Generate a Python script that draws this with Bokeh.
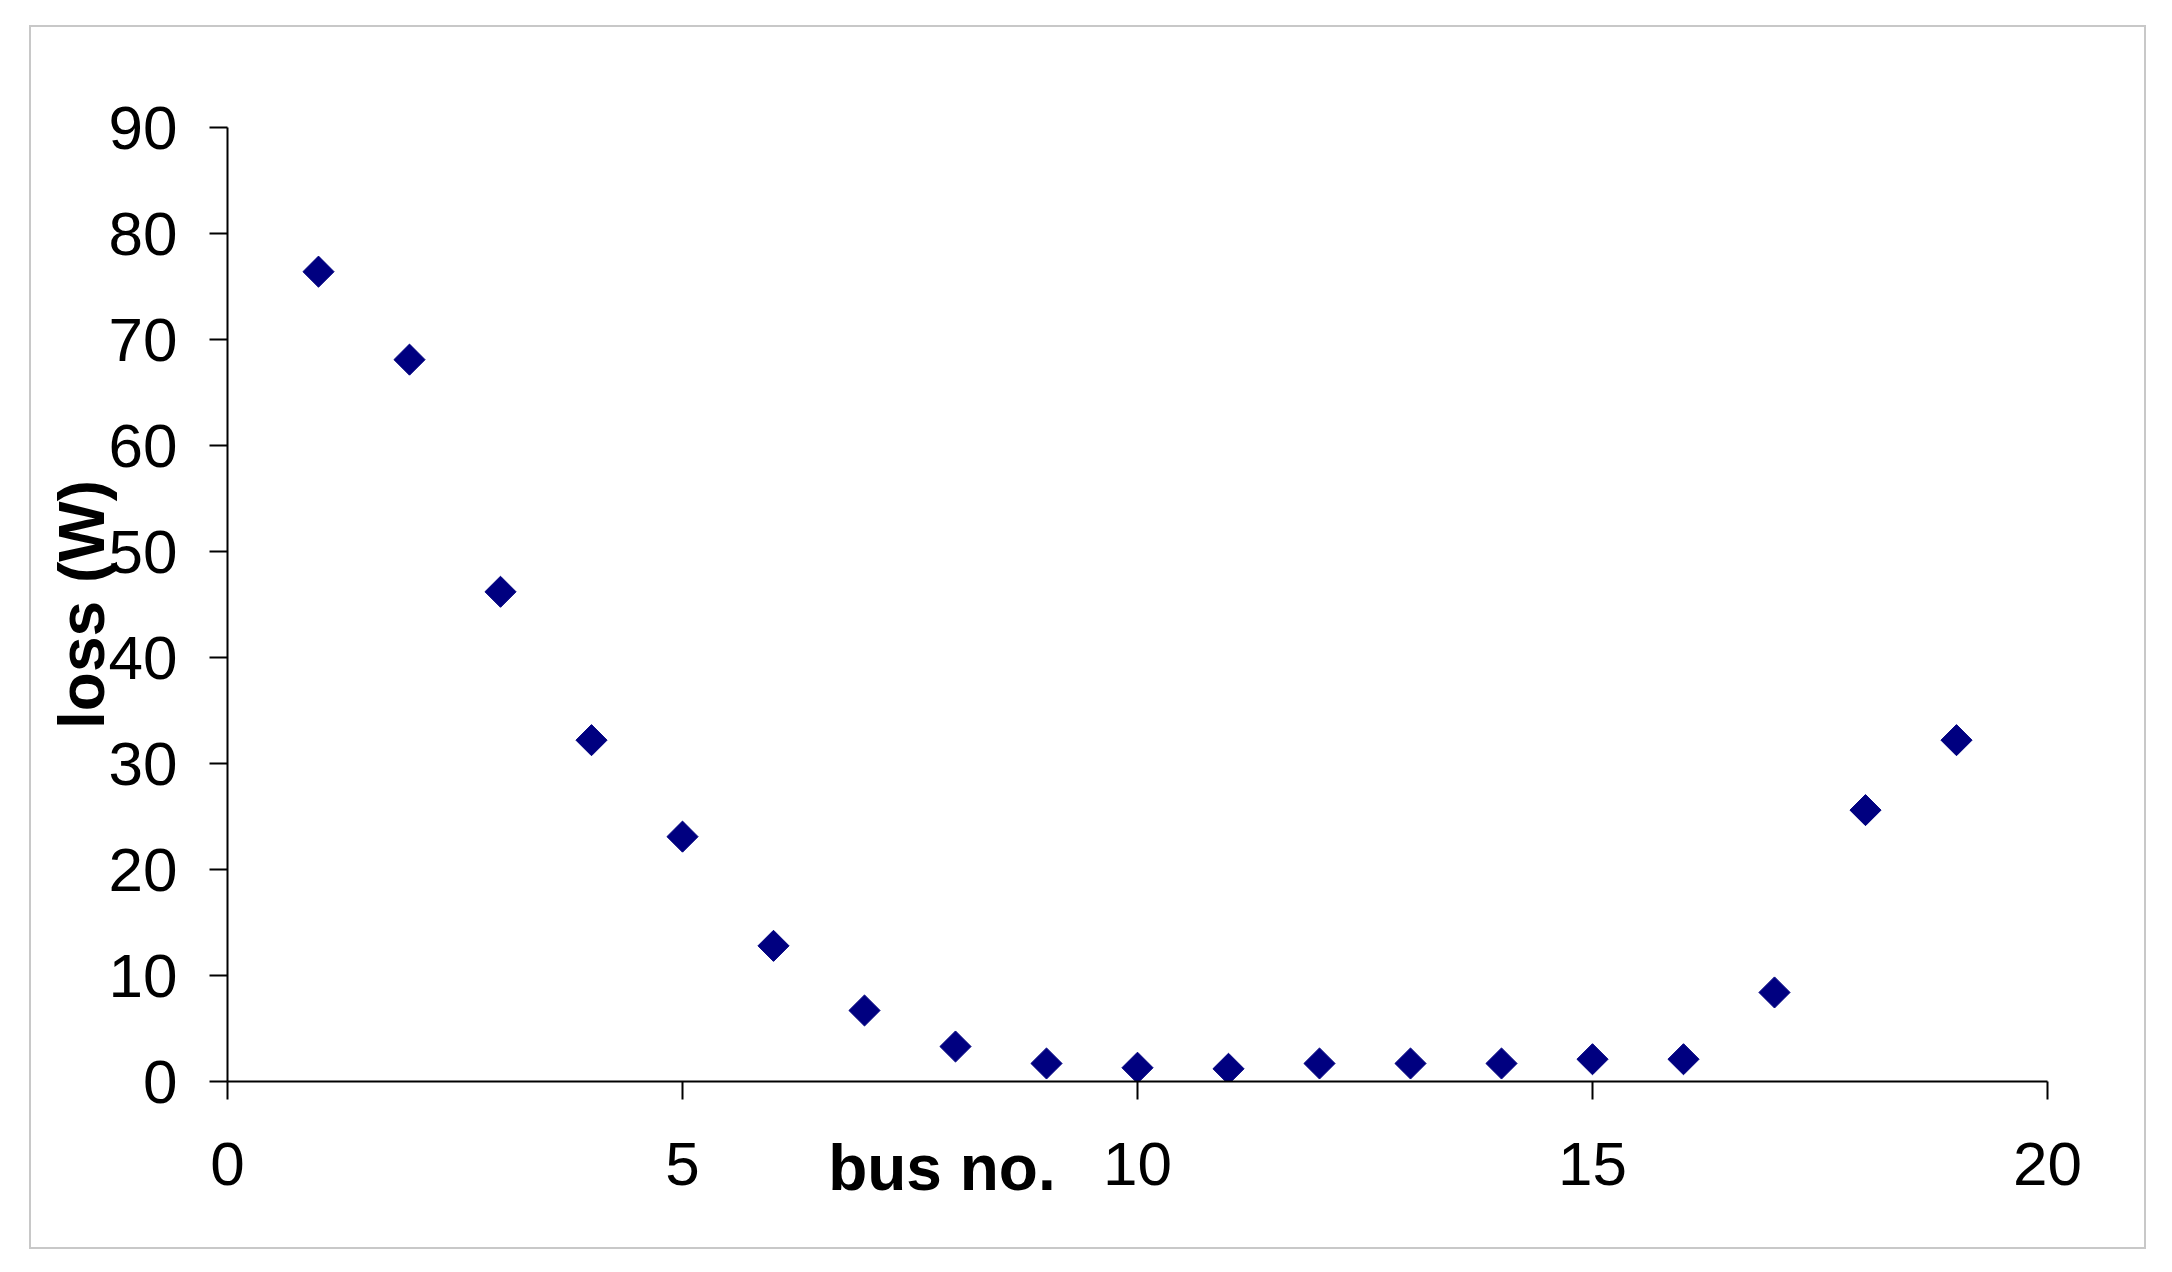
import math
from bokeh.plotting import figure
from bokeh.models import Range1d, FixedTicker, ColumnDataSource, LinearAxis
from bokeh.embed import file_html
from bokeh.resources import INLINE

bus_no = [1, 2, 3, 4, 5, 6, 7, 8, 9, 10, 11, 12, 13, 14, 15, 16, 17, 18, 19]
loss_w = [76.4, 68.1, 46.2, 32.2, 23.1, 12.8, 6.7, 3.3, 1.7, 1.3, 1.2, 1.7, 1.7, 1.7, 2.1, 2.1, 8.4, 25.6, 32.2]
x_ticks = [0, 5, 10, 15, 20]
y_ticks = [0, 10, 20, 30, 40, 50, 60, 70, 80, 90]
x_title = "bus no."
y_title = "loss (W)"

FONT = "Liberation Sans"
NAVY = "#000080"

p = figure(width=2117, height=1224, output_backend="svg", toolbar_location=None,
           x_range=Range1d(0, 20), y_range=Range1d(0, 90),
           min_border_left=196, min_border_right=101, min_border_top=100, min_border_bottom=170,
           margin=(25, 0, 0, 29),
           styles={"border": "2px solid #c8c8c8"})
p.outline_line_color = None
p.xgrid.visible = False
p.ygrid.visible = False

src = ColumnDataSource(dict(x=bus_no, y=loss_w))
p.scatter("x", "y", source=src, marker="square", angle=math.pi / 4, size=22,
          fill_color=NAVY, line_color=NAVY, line_width=1)

for ax, ticks in ((p.xaxis[0], x_ticks), (p.yaxis[0], y_ticks)):
    ax.ticker = FixedTicker(ticks=ticks)
    ax.minor_tick_line_color = None
    ax.major_tick_in = 0
    ax.major_tick_out = 18
    ax.axis_line_color = "black"
    ax.axis_line_width = 2
    ax.major_tick_line_width = 2
    ax.major_label_text_font = FONT
    ax.major_label_text_font_size = "62px"
    ax.major_label_text_color = "black"

p.xaxis[0].major_label_standoff = 43
p.yaxis[0].major_label_standoff = 32

p.yaxis[0].axis_label = y_title
p.yaxis[0].axis_label_text_font = FONT
p.yaxis[0].axis_label_text_font_size = "64px"
p.yaxis[0].axis_label_text_font_style = "bold"
p.yaxis[0].axis_label_text_color = "black"
p.yaxis[0].axis_label_standoff = -12

# x title sits left of centre, level with the tick labels (as in the reference)
xb = LinearAxis(ticker=FixedTicker(ticks=[]), axis_line_color=None,
                major_tick_line_color=None, minor_tick_line_color=None,
                major_label_text_font_size="1px",
                axis_label=x_title + "\u00a0" * 22, axis_label_text_font=FONT,
                axis_label_text_font_size="64px",
                axis_label_text_font_style="bold", axis_label_text_color="black",
                axis_label_standoff=-56)
p.add_layout(xb, "below")

open("out.html", "w").write(file_html(p, INLINE))
